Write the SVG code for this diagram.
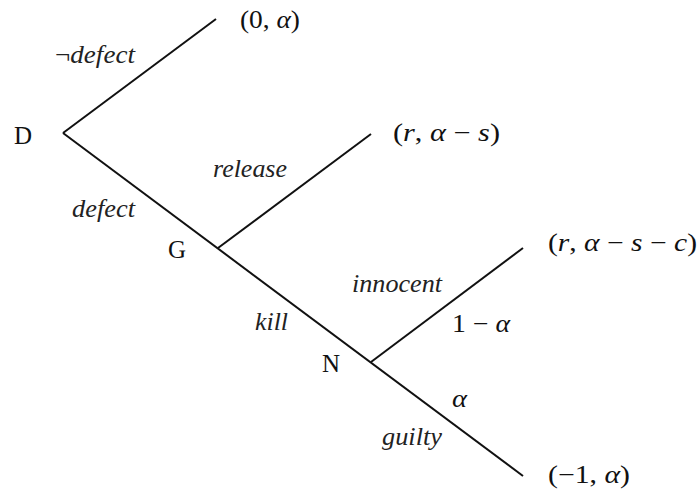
<svg xmlns="http://www.w3.org/2000/svg" width="700" height="493" viewBox="0 0 700 493">
<style>
.edge{stroke:#111;stroke-width:2;fill:none;stroke-linecap:butt}
text{font-family:"Times New Roman","Liberation Serif",Times,serif}
.node{font-size:25px;fill:#111}
.lab{font-size:25px;font-style:italic;fill:#222}
.math{font-size:25px;fill:#111}
.it{font-style:italic}
</style>
<rect width="700" height="493" fill="#fff"/>
<g id="connectors">
<line class="edge" x1="63" y1="133" x2="216" y2="19"/>
<line class="edge" x1="63" y1="133" x2="523" y2="476"/>
<line class="edge" x1="218" y1="248" x2="371" y2="134"/>
<line class="edge" x1="371" y1="362" x2="523" y2="248"/>
<text class="lab" x="55" y="63" textLength="80" lengthAdjust="spacingAndGlyphs"><tspan font-style="normal">¬</tspan>defect</text>
<text class="lab" x="72" y="217" textLength="63" lengthAdjust="spacingAndGlyphs">defect</text>
<text class="lab" x="213" y="177" textLength="74" lengthAdjust="spacingAndGlyphs">release</text>
<text class="lab" x="255" y="330" textLength="33" lengthAdjust="spacingAndGlyphs">kill</text>
<text class="lab" x="352" y="292" textLength="90" lengthAdjust="spacingAndGlyphs">innocent</text>
<text class="lab" x="382" y="445" textLength="60" lengthAdjust="spacingAndGlyphs">guilty</text>
<text class="math" x="452" y="332" textLength="58" lengthAdjust="spacingAndGlyphs">1 − <tspan class="it">α</tspan></text>
<text class="math it" x="452" y="407" textLength="15" lengthAdjust="spacingAndGlyphs">α</text>
</g>
<g id="node-D"><text class="node" x="14" y="144">D</text></g>
<g id="node-G"><text class="node" x="168" y="258">G</text></g>
<g id="node-N"><text class="node" x="322" y="372">N</text></g>
<g id="leaf-1"><text class="math" x="240" y="28" textLength="60" lengthAdjust="spacingAndGlyphs">(0, <tspan class="it">α</tspan>)</text></g>
<g id="leaf-2"><text class="math" x="393" y="141" textLength="107" lengthAdjust="spacingAndGlyphs">(<tspan class="it">r</tspan>, <tspan class="it">α</tspan> − <tspan class="it">s</tspan>)</text></g>
<g id="leaf-3"><text class="math" x="548" y="251" textLength="149" lengthAdjust="spacingAndGlyphs">(<tspan class="it">r</tspan>, <tspan class="it">α</tspan> − <tspan class="it">s</tspan> − <tspan class="it">c</tspan>)</text></g>
<g id="leaf-4"><text class="math" x="548" y="483" textLength="82" lengthAdjust="spacingAndGlyphs">(−1, <tspan class="it">α</tspan>)</text></g>
</svg>
